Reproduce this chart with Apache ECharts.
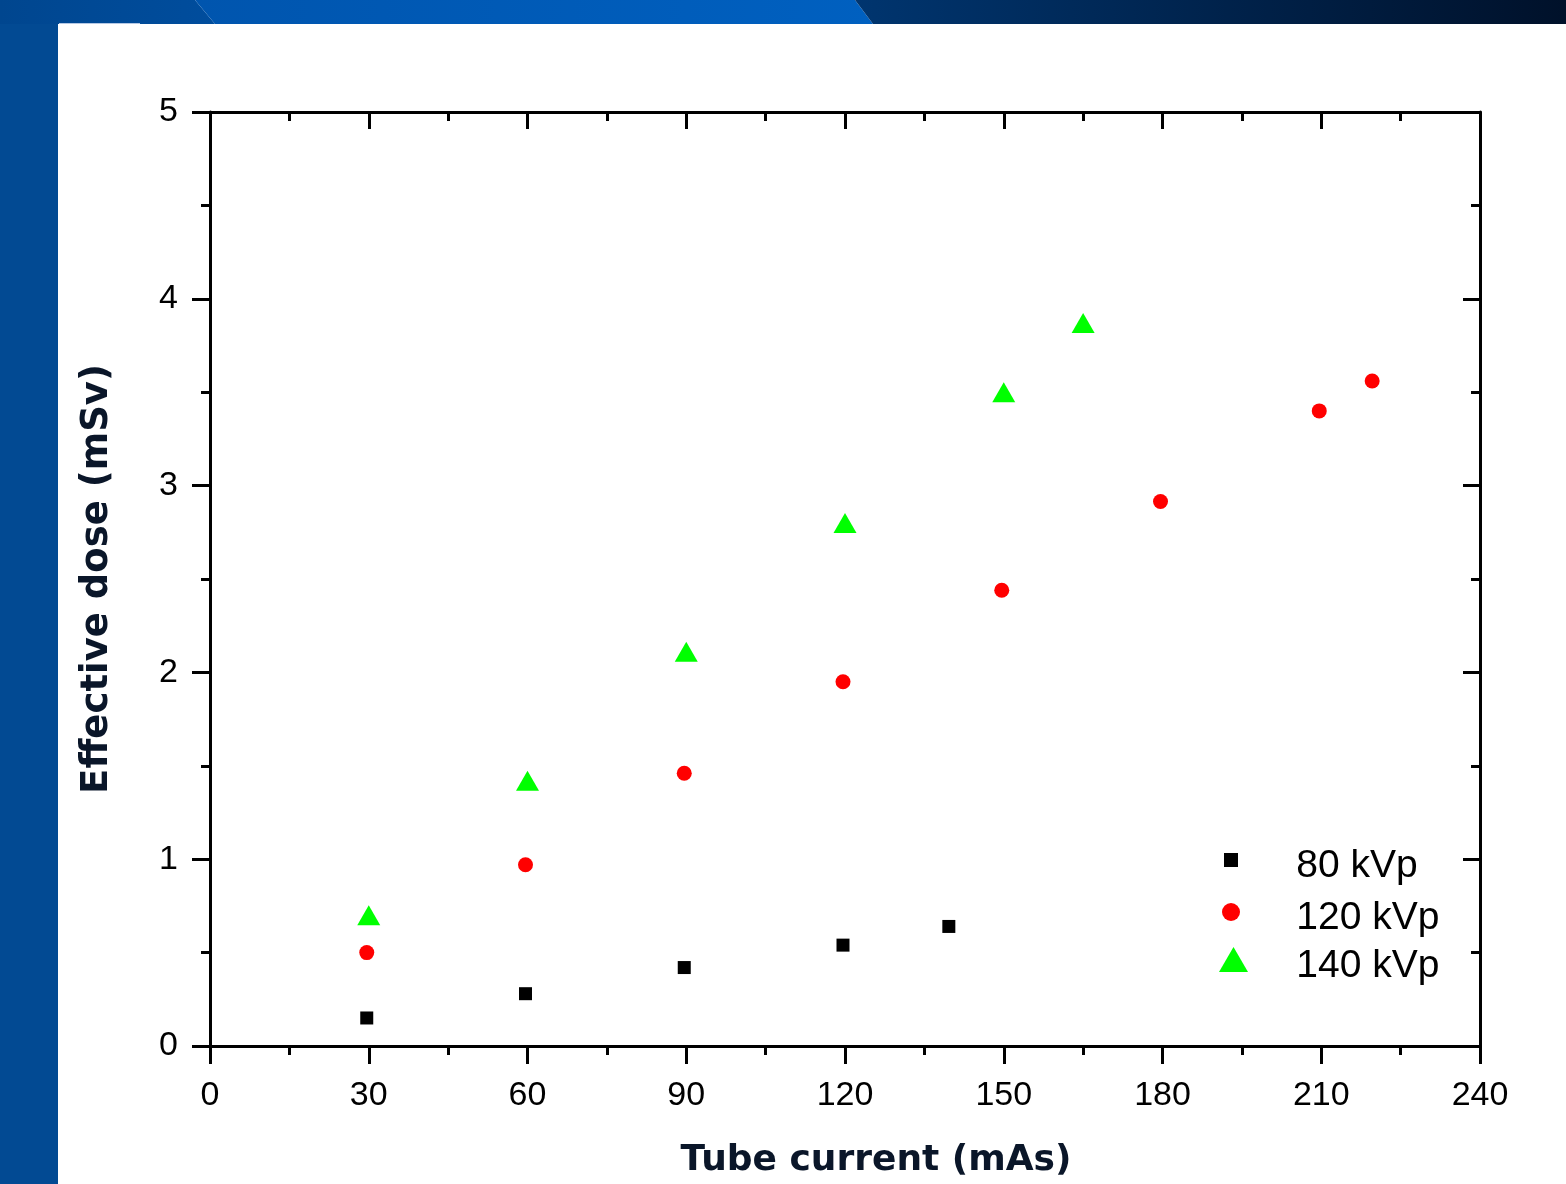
<!DOCTYPE html>
<html>
<head>
<meta charset="utf-8">
<script src="https://cdn.jsdelivr.net/npm/echarts@6/dist/echarts.min.js"></script>
<style>
html,body{margin:0;padding:0;background:#fff;}
#chart{width:1566px;height:1184px;}
</style>
</head>
<body>
<div id="chart"></div>
<script>
// ---- data ----
const seriesNames = ['80 kVp', '120 kVp', '140 kVp'];
const x80 = [30, 60, 90, 120, 140];
const y80 = [0.15, 0.28, 0.42, 0.54, 0.64];
const x120 = [30, 60, 90, 120, 150, 180, 210, 220];
const y120 = [0.50, 0.97, 1.46, 1.95, 2.44, 2.915, 3.40, 3.56];
const x140 = [30, 60, 90, 120, 150, 165];
const y140 = [0.70, 1.42, 2.11, 2.80, 3.50, 3.87];
const xTitle = 'Tube current (mAs)';
const yTitle = 'Effective dose (mSv)';

const pairs = (xs, ys) => xs.map((x, i) => [x, ys[i]]);

const axisCommonLine = { show: true, onZero: false, lineStyle: { color: '#000', width: 3 } };
const tickFont = { color: '#000', fontFamily: 'Liberation Sans', fontSize: 34 };
const titleFont = { color: '#0a1629', fontFamily: 'DejaVu Sans', fontWeight: 'bold' };
const legendText = (padLeft) => ({
  fontFamily: 'Liberation Sans', fontSize: 39, color: '#000', padding: [0,0,0,padLeft],
  rich: {
    s: { fontSize: 1, lineHeight: 52 },
    t: { fontFamily: 'Liberation Sans', fontSize: 39, color: '#000', lineHeight: 40, verticalAlign: 'bottom' }
  }
});
const legendFmt = '{s| }{t|{name}}';

const chart = echarts.init(document.getElementById('chart'), null, { renderer: 'canvas' });
chart.setOption({
  animation: false,
  backgroundColor: '#ffffff',
  graphic: [
    { type: 'rect', shape: { x: 0, y: 0, width: 58, height: 1184 }, style: { fill: '#024a93' }, silent: true },
    { type: 'polygon', shape: { points: [[0,0],[195,0],[215,24],[0,24]] }, silent: true,
      style: { fill: new echarts.graphic.LinearGradient(0,0,1,0,[{offset:0,color:'#00468f'},{offset:1,color:'#004d9d'}]) } },
    { type: 'polygon', shape: { points: [[195,0],[855,0],[873,24],[215,24]] }, silent: true,
      style: { fill: new echarts.graphic.LinearGradient(0,0,1,0,[{offset:0,color:'#0055ae'},{offset:1,color:'#0060c0'}]) } },
    { type: 'polygon', shape: { points: [[855,0],[1566,0],[1566,24],[873,24]] }, silent: true,
      style: { fill: new echarts.graphic.LinearGradient(0,0,1,0,[{offset:0,color:'#00356f'},{offset:1,color:'#00112a'}]) } },
    { type: 'rect', shape: { x: 59, y: 23, width: 81, height: 1 }, style: { fill: '#b5c8e4' }, silent: true }
  ],
  grid: { left: 210, right: 86, top: 112, bottom: 136, containLabel: false },
  legend: [
    { data: [{ name: seriesNames[0], icon: 'rect' }], left: 1224, top: 847, padding: 0, orient: 'vertical',
      itemWidth: 14, itemHeight: 14, selectedMode: false, formatter: legendFmt, textStyle: legendText(53) },
    { data: [{ name: seriesNames[1], icon: 'circle' }], left: 1222, top: 899, padding: 0, orient: 'vertical',
      itemWidth: 18, itemHeight: 18, selectedMode: false, formatter: legendFmt, textStyle: legendText(51) },
    { data: [{ name: seriesNames[2], icon: 'triangle' }], left: 1219, top: 946.5, padding: 0, orient: 'vertical',
      itemWidth: 29, itemHeight: 25, symbolKeepAspect: false, selectedMode: false, formatter: legendFmt, textStyle: legendText(43) }
  ],
  xAxis: [
    { type: 'value', position: 'bottom', min: 0, max: 240, interval: 30,
      name: xTitle, nameLocation: 'middle', nameGap: 97,
      nameTextStyle: Object.assign({ fontSize: 36, padding: [0,0,0,62], verticalAlign: 'top' }, titleFont),
      axisLine: axisCommonLine, splitLine: { show: false },
      axisTick: { show: true, inside: false, length: 18, lineStyle: { color: '#000', width: 3 } },
      minorTick: { show: true, splitNumber: 2, length: 9, lineStyle: { color: '#000', width: 3 } },
      axisLabel: Object.assign({ margin: 33 }, tickFont) },
    { type: 'value', position: 'top', min: 0, max: 240, interval: 30, show: true,
      axisLine: axisCommonLine, splitLine: { show: false },
      axisTick: { show: true, inside: true, length: 17, lineStyle: { color: '#000', width: 3 } },
      minorTick: { show: true, splitNumber: 2, length: 9, lineStyle: { color: '#000', width: 3 } },
      axisLabel: { show: false } }
  ],
  yAxis: [
    { type: 'value', position: 'left', min: 0, max: 5, interval: 1,
      name: yTitle, nameLocation: 'middle', nameGap: 94, nameRotate: 90,
      nameTextStyle: Object.assign({ fontSize: 37 }, titleFont),
      axisLine: axisCommonLine, splitLine: { show: false },
      axisTick: { show: true, inside: false, length: 18, lineStyle: { color: '#000', width: 3 } },
      minorTick: { show: true, splitNumber: 2, length: 9, lineStyle: { color: '#000', width: 3 } },
      axisLabel: Object.assign({ margin: 32 }, tickFont) },
    { type: 'value', position: 'right', min: 0, max: 5, interval: 1, show: true,
      axisLine: axisCommonLine, splitLine: { show: false },
      axisTick: { show: true, inside: true, length: 17, lineStyle: { color: '#000', width: 3 } },
      minorTick: { show: true, splitNumber: 2, length: 9, lineStyle: { color: '#000', width: 3 } },
      axisLabel: { show: false } }
  ],
  series: [
    { name: seriesNames[0], type: 'scatter', xAxisIndex: 0, yAxisIndex: 0, symbol: 'rect', symbolSize: 13,
      symbolOffset: [-2, 0], itemStyle: { color: '#000000', opacity: 1 }, data: pairs(x80, y80) },
    { name: seriesNames[1], type: 'scatter', xAxisIndex: 0, yAxisIndex: 0, symbol: 'circle', symbolSize: 15,
      symbolOffset: [-2, 0], itemStyle: { color: '#ff0000', opacity: 1 }, data: pairs(x120, y120) },
    { name: seriesNames[2], type: 'scatter', xAxisIndex: 0, yAxisIndex: 0, symbol: 'triangle', symbolSize: [23, 20],
      itemStyle: { color: '#00ff00', opacity: 1 }, data: pairs(x140, y140) },
    // empty helper series so the mirror (top/right) axes are drawn
    { name: '_mirror', type: 'scatter', xAxisIndex: 1, yAxisIndex: 1, data: [], silent: true }
  ]
});
</script>
</body>
</html>
